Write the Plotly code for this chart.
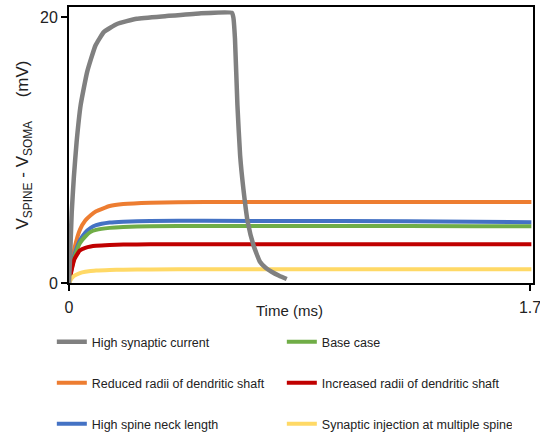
import plotly.graph_objects as go

# ---- data ----
t_main = [0, 0.01, 0.02, 0.04, 0.06, 0.08, 0.1, 0.15, 0.2, 0.3, 0.5, 1.0, 1.5, 1.705]
orange = [0, 1.5, 2.6, 4.0, 4.7, 5.1, 5.4, 5.8, 5.95, 6.05, 6.1, 6.1, 6.1, 6.1]
blue = [0, 1.2, 2.1, 3.2, 3.8, 4.15, 4.35, 4.55, 4.62, 4.67, 4.68, 4.66, 4.62, 4.58]
green = [0, 1.1, 1.9, 3.0, 3.5, 3.85, 4.0, 4.15, 4.22, 4.27, 4.29, 4.29, 4.28, 4.27]
red = [0, 1.0, 1.8, 2.45, 2.65, 2.75, 2.8, 2.86, 2.89, 2.91, 2.91, 2.91, 2.91, 2.91]
yellow = [0, 0.35, 0.55, 0.75, 0.85, 0.9, 0.94, 0.98, 1.0, 1.02, 1.03, 1.03, 1.03, 1.03]

t_gray = [0, 0.005, 0.01, 0.018, 0.028, 0.043, 0.067, 0.098, 0.129, 0.177, 0.25,
          0.36, 0.48, 0.6, 0.606, 0.612, 0.621, 0.631, 0.643, 0.659, 0.68, 0.704,
          0.725, 0.747, 0.775, 0.803]
gray = [0, 2.5, 5.3, 8.0, 10.6, 13.4, 15.9, 17.9, 18.9, 19.5, 19.9,
        20.1, 20.3, 20.35, 20.0, 18.4, 13.4, 9.6, 7.1, 4.6, 2.86, 1.6,
        1.15, 0.85, 0.55, 0.3]

names = ["High synaptic current", "Base case", "Reduced radii of dendritic shaft",
         "Increased radii of dendritic shaft", "High spine neck length",
         "Synaptic injection at multiple spines"]
colors = ["#808080", "#70AD47", "#ED7D31", "#C00000", "#4472C4", "#FFD966"]

x_ticks = [0, 1.7]
x_ticklabels = ["0", "1.7"]
y_ticks = [0, 20]
y_ticklabels = ["0", "20"]
x_title = "Time (ms)"
y_title = "V<sub>SPINE</sub> - V<sub>SOMA</sub>&nbsp;&nbsp;&nbsp;&nbsp;&nbsp;(mV)"

FONT = "Arial, Liberation Sans, sans-serif"
TXT = "#222"

series = [
    (t_gray, gray, names[0], colors[0], 4.5, "legend"),
    (t_main, green, names[1], colors[1], 4, "legend"),
    (t_main, orange, names[2], colors[2], 4, "legend2"),
    (t_main, red, names[3], colors[3], 4, "legend2"),
    (t_main, blue, names[4], colors[4], 4, "legend3"),
    (t_main, yellow, names[5], colors[5], 4, "legend3"),
]

fig = go.Figure()
draw_order = [2, 4, 1, 3, 5, 0]
for i in draw_order:
    x, y, n, c, w, lg = series[i]
    fig.add_trace(go.Scatter(x=x, y=y, mode="lines", name=n, legend=lg,
                             line=dict(color=c, width=w, shape="spline", smoothing=0.4),
                             legendrank=i))

H = 437
T, B = 7, 154
L, R = 69, 7
ph = H - T - B
pw = 540 - L - R


def ypaper(ypix):
    return (H - B - ypix) / ph


def xpaper(xpix):
    return (xpix - L) / pw


leg_common = dict(orientation="h", x=-0.037, xanchor="left", yanchor="middle",
                  entrywidth=185, entrywidthmode="pixels",
                  font=dict(family=FONT, size=12.5, color=TXT),
                  bgcolor="rgba(0,0,0,0)", traceorder="normal")

axis_common = dict(showgrid=False, zeroline=False, showline=True, linecolor="black",
                   linewidth=2, mirror=True, ticks="outside", ticklen=6, tickwidth=2,
                   tickcolor="black", ticklabeloverflow="allow",
                   tickfont=dict(size=16, family=FONT, color=TXT))

fig.update_layout(
    width=540, height=437,
    margin=dict(l=L, r=R, t=T, b=B, autoexpand=False),
    paper_bgcolor="white", plot_bgcolor="white",
    font=dict(family=FONT, size=14, color=TXT),
    showlegend=True,
    legend=dict(y=ypaper(342), **leg_common),
    legend2=dict(y=ypaper(383), **leg_common),
    legend3=dict(y=ypaper(424), **leg_common),
    xaxis=dict(range=[0, 1.711], tickvals=x_ticks, ticktext=x_ticklabels,
               ticklabelstandoff=3, **axis_common),
    yaxis=dict(range=[0, 20.78], tickvals=y_ticks, ticktext=y_ticklabels,
               title=dict(text=y_title, standoff=7,
                          font=dict(size=17, family=FONT, color=TXT)),
               **axis_common),
    annotations=[dict(text=x_title, xref="paper", yref="paper",
                      x=xpaper(289), y=ypaper(310.5), xanchor="center",
                      yanchor="middle", showarrow=False,
                      font=dict(size=15, family=FONT, color=TXT))],
)

fig.write_html("out.html")
